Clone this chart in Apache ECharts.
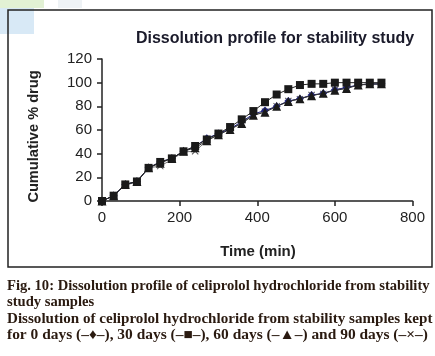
<!DOCTYPE html>
<html>
<head>
<meta charset="utf-8">
<script src="https://cdn.jsdelivr.net/npm/echarts@6/dist/echarts.min.js"></script>
<style>
html,body{margin:0;padding:0;background:#fff;}
#c{width:435px;height:356px;}
</style>
</head>
<body>
<div id="c"></div>
<script>
const times = [0,30,60,90,120,150,180,210,240,270,300,330,360,390,420,450,480,510,540,570,600,630,660,690,720];
const days0  = [0,4.5,14,16.5,28,33,36,42,46,53,57,61,67,73.5,76.5,80,84.5,86.5,89.5,91,94,96,98,99,99];
const days30 = [0,4.5,14,16.5,28,33,36,42,46.5,52,57,62.5,69,76,83.5,90,94.5,98,99,99,100,100,100,100,100];
const days60 = [0,4.5,14,16.5,28,32,36,42,45,51,56,60.5,65.5,72.5,75,80,84,86.5,89,91,93.5,95,98,99,99];
const days90 = [0,4.5,13.5,16,28,29.5,35,41.5,42,51,56,61,66,73,75.5,80,84.5,86,89.5,90.5,94,95.5,98,98.5,98.5];
const xTicks = [0,200,400,600,800];
const yTicks = [0,20,40,60,80,100,120];
const titleText = 'Dissolution profile for stability study';
const yName = 'Cumulative % drug';
const xName = 'Time (min)';
const caption = [
  'Fig. 10: Dissolution profile of celiprolol hydrochloride from stability',
  'study samples',
  'Dissolution of celiprolol hydrochloride from stability samples kept',
  'for 0 days (\u2013\u2666\u2013), 30 days (\u2013\u25A0\u2013), 60 days (\u2013\u25B2\u2013) and 90 days (\u2013\u00D7\u2013)'
];

const pair = (a) => times.map((t,i)=>[t,a[i]]);
const crossPath = 'path://M0,1 L1,0 L5,4 L9,0 L10,1 L6,5 L10,9 L9,10 L5,6 L1,10 L0,9 L4,5 Z';

const chart = echarts.init(document.getElementById('c'), null, {renderer:'canvas'});
const sansFont = 'Liberation Sans, Arial, sans-serif';
const serifFont = 'Liberation Serif, Times New Roman, serif';

const graphics = [
  {type:'rect', shape:{x:0,y:0,width:44,height:8}, style:{fill:'#e2f1d4'}, z:-10},
  {type:'rect', shape:{x:0,y:8,width:34,height:26}, style:{fill:'#d8e9f6'}, z:-10},
  {type:'rect', shape:{x:58,y:0,width:24,height:8}, style:{fill:'#eef2f5'}, z:-10},
  {type:'rect', shape:{x:8,y:10,width:424,height:257}, style:{fill:'none', stroke:'#222', lineWidth:1.5}, z:5},
  {type:'text', x:34, y:136.5, rotation:Math.PI/2, style:{text:yName, font:'bold 14.6px '+sansFont, fill:'#222', align:'center', verticalAlign:'middle'}},
  {type:'text', x:258, y:252, style:{text:xName, font:'bold 15px '+sansFont, fill:'#222', align:'center', verticalAlign:'middle'}}
];
const capY = [286, 302.5, 319, 335.5];
const capScale = [1, 1, 1.034, 1.058];
caption.forEach((line,i)=>{
  graphics.push({type:'text', x:7, y:capY[i], scaleX:capScale[i], style:{text:line, font:'bold 14.6px '+serifFont, fill:'#2a1a10', align:'left', verticalAlign:'middle'}});
});

const baseSeries = (name, data, symbol, size, color, lineColor, z) => ({
  name, type:'line', data: pair(data), symbol, symbolSize:size,
  itemStyle:{color}, lineStyle:{color:lineColor, width:1}, z, animation:false
});

chart.setOption({
  animation:false,
  title:{text:titleText, left:270, top:26, textAlign:'center',
    textStyle:{fontFamily:sansFont, fontWeight:'bold', fontSize:16, color:'#1a1a2a'}},
  grid:{left:102, right:22.5, top:59, bottom:155, containLabel:false},
  xAxis:{type:'value', min:0, max:800, interval:200,
    axisLine:{lineStyle:{color:'#222', width:1.5}}, axisTick:{length:5, lineStyle:{color:'#222', width:1.5}},
    axisLabel:{color:'#222', fontSize:15, fontFamily:sansFont, margin:9,
      formatter:(v)=> xTicks.includes(v)? String(v):''},
    splitLine:{show:false}},
  yAxis:{type:'value', min:0, max:120, interval:20,
    axisLine:{show:true, lineStyle:{color:'#222', width:1.5}}, axisTick:{show:true, length:5, lineStyle:{color:'#222', width:1.5}},
    axisLabel:{color:'#222', fontSize:15, fontFamily:sansFont, margin:10,
      formatter:(v)=> yTicks.includes(v)? String(v):''},
    splitLine:{show:false}},
  series:[
    baseSeries('90 days', days90, crossPath, 7, '#555', '#777', 2),
    baseSeries('0 days', days0, 'diamond', 8, '#1f237a', '#1f237a', 3),
    baseSeries('60 days', days60, 'triangle', 9, '#1a1a1a', '#333', 4),
    baseSeries('30 days', days30, 'rect', 8, '#1a1a1a', '#222', 5)
  ],
  graphic:graphics
});
</script>
</body>
</html>
